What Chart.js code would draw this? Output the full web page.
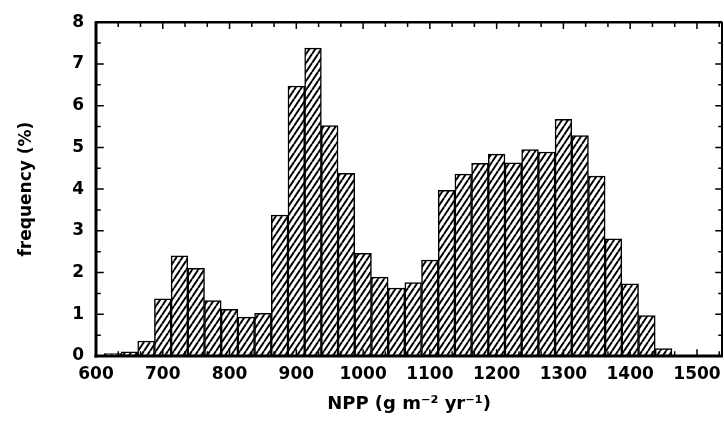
<!DOCTYPE html>
<html>
<head>
<meta charset="utf-8">
<script src="https://cdn.jsdelivr.net/npm/chart.js@4.4.1/dist/chart.umd.min.js"></script>
<style>
  html, body { margin: 0; padding: 0; background: #fff; }
  #wrap { width: 724px; height: 427px; }
</style>
</head>
<body>
<div id="wrap"><canvas id="nppChart" width="724" height="427"></canvas></div>
<script>
// bin centres (g m-2 yr-1), bin width 25
const binCenters = [625, 650, 675, 700, 725, 750, 775, 800, 825, 850,
                    875, 900, 925, 950, 975, 1000, 1025, 1050, 1075, 1100,
                    1125, 1150, 1175, 1200, 1225, 1250, 1275, 1300, 1325, 1350,
                    1375, 1400, 1425, 1450];
// frequency (%)
const frequency = [0.06, 0.1, 0.36, 1.37, 2.4, 2.1, 1.33, 1.12, 0.93, 1.02,
                   3.38, 6.47, 7.38, 5.52, 4.38, 2.46, 1.89, 1.63, 1.76, 2.3,
                   3.97, 4.36, 4.62, 4.84, 4.63, 4.95, 4.89, 5.67, 5.28, 4.31,
                   2.81, 1.73, 0.97, 0.18];
const xTickValues = [600, 700, 800, 900, 1000, 1100, 1200, 1300, 1400, 1500];
const yTickValues = [0, 1, 2, 3, 4, 5, 6, 7, 8];

const tickFont = { family: 'DejaVu Sans', size: 17, weight: 'bold' };

// diagonal hatch fill
function makeHatch() {
    const w = 6, h = 9;
    const c = document.createElement('canvas');
    c.width = w; c.height = h;
    const g = c.getContext('2d');
    g.fillStyle = '#fff';
    g.fillRect(0, 0, w, h);
    g.strokeStyle = '#000';
    g.lineWidth = 2;
    [-w, 0, w].forEach(dx => {
        g.beginPath();
        g.moveTo(dx, h);
        g.lineTo(dx + w, 0);
        g.stroke();
    });
    return g.createPattern(c, 'repeat');
}

// frame + inward ticks like the original plot
const frameTicks = {
    id: 'frameTicks',
    afterDatasetsDraw(chart) {
        const { ctx, chartArea: a, scales: { x, y } } = chart;
        ctx.save();
        ctx.strokeStyle = '#000';
        ctx.lineCap = 'square';
        // y ticks, left and right
        ctx.lineWidth = 1.5;
        for (let v = 0; v <= 8; v += 0.5) {
            const py = y.getPixelForValue(v);
            const major = v % 1 === 0;
            ctx.beginPath();
            ctx.moveTo(a.left, py); ctx.lineTo(a.left + (major ? 7 : 4), py);
            ctx.moveTo(a.right, py); ctx.lineTo(a.right - (major ? 6 : 3), py);
            ctx.stroke();
        }
        // x ticks, top and bottom
        for (let k = 0; k <= 28; k++) {
            const v = 600 + k * 100 / 3;
            const px = x.getPixelForValue(v);
            const major = k % 3 === 0;
            ctx.beginPath();
            ctx.moveTo(px, a.top); ctx.lineTo(px, a.top + (major ? 6 : 4));
            ctx.moveTo(px, a.bottom); ctx.lineTo(px, a.bottom - (major ? 6 : 4));
            ctx.stroke();
        }
        // frame
        ctx.lineCap = 'butt';
        ctx.lineWidth = 3;
        ctx.beginPath();
        ctx.moveTo(a.left, a.top - 1); ctx.lineTo(a.left, a.bottom + 1.5);
        ctx.stroke();
        ctx.beginPath();
        ctx.moveTo(a.left - 1.5, a.bottom); ctx.lineTo(a.right + 1, a.bottom);
        ctx.stroke();
        ctx.lineWidth = 2.5;
        ctx.beginPath();
        ctx.moveTo(a.left, a.top); ctx.lineTo(a.right, a.top);
        ctx.stroke();
        ctx.lineWidth = 2;
        ctx.beginPath();
        ctx.moveTo(a.right, a.top); ctx.lineTo(a.right, a.bottom);
        ctx.stroke();
        ctx.restore();
    }
};

const ctx = document.getElementById('nppChart').getContext('2d');
new Chart(ctx, {
    type: 'bar',
    data: {
        datasets: [{
            label: 'frequency',
            data: binCenters.map((c, i) => ({ x: c, y: frequency[i] })),
            backgroundColor: makeHatch(),
            borderColor: '#000',
            borderWidth: 1.5,
            borderSkipped: false,
            barPercentage: 1,
            categoryPercentage: 1
        }]
    },
    options: {
        responsive: false,
        animation: false,
        layout: { padding: { top: 14, right: 2, left: 0, bottom: 0 } },
        plugins: { legend: { display: false }, tooltip: { enabled: false } },
        scales: {
            x: {
                type: 'linear',
                offset: false,
                min: 600,
                max: 1537.5,
                afterBuildTicks: s => { s.ticks = xTickValues.map(v => ({ value: v })); },
                afterFit: s => { s.height = 71; s.paddingLeft = 0; s.paddingRight = 0; },
                grid: { display: false, drawTicks: false, offset: false },
                border: { display: false },
                ticks: {
                    color: '#000', font: tickFont, padding: 8, maxRotation: 0, autoSkip: false,
                    callback: v => String(v)
                },
                title: {
                    display: true,
                    text: 'NPP (g m⁻² yr⁻¹)',
                    color: '#000',
                    font: { family: 'DejaVu Sans', size: 18, weight: 'bold' },
                    padding: 12
                }
            },
            y: {
                min: 0,
                max: 8,
                afterBuildTicks: s => { s.ticks = yTickValues.map(v => ({ value: v })); },
                afterFit: s => { s.width = 96; },
                grid: { display: false, drawTicks: false },
                border: { display: false },
                ticks: { color: '#000', font: tickFont, padding: 12 },
                title: {
                    display: true,
                    text: 'frequency (%)',
                    color: '#000',
                    font: { family: 'DejaVu Sans', size: 17, weight: 'bold' },
                    padding: 16
                }
            }
        }
    },
    plugins: [frameTicks]
});
</script>
</body>
</html>
